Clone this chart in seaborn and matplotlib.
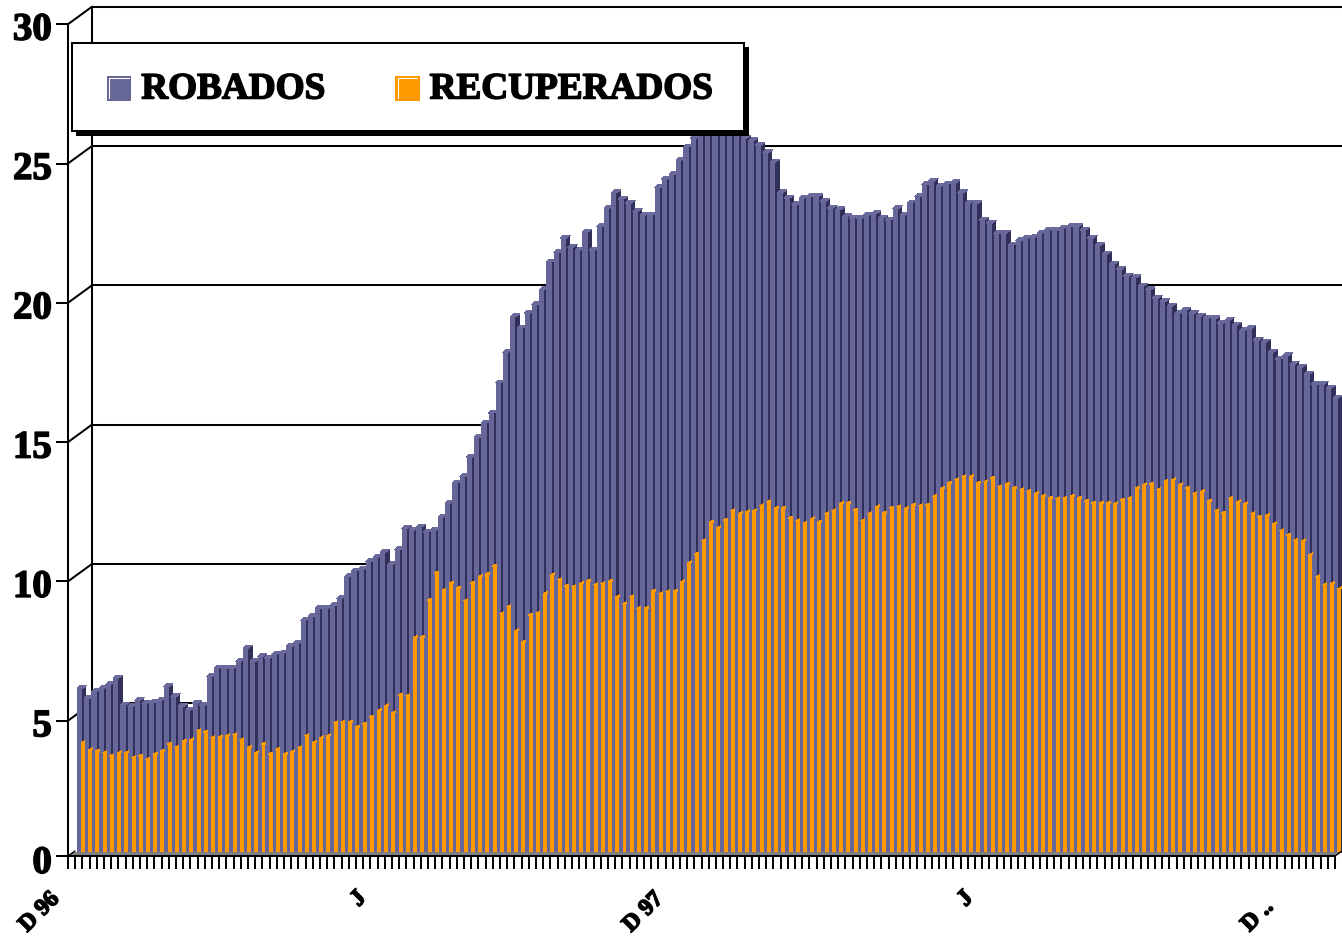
import numpy as np
import pandas as pd
import matplotlib
matplotlib.use("Agg")
import matplotlib.pyplot as plt
import matplotlib.patheffects as pe
from matplotlib.collections import PolyCollection
from matplotlib.legend_handler import HandlerBase
from matplotlib.lines import Line2D
from matplotlib.patches import Patch, Rectangle
from matplotlib.transforms import ScaledTranslation
import seaborn as sns

robados = [5.91,5.55,5.79,5.91,6.05,6.27,5.31,5.25,5.47,5.37,5.39,5.47,5.97,5.61,5.25,
    5.13,5.37,5.31,6.33,6.63,6.63,6.63,6.87,7.35,6.87,7.05,6.99,7.14,7.17,7.41,
    7.53,8.34,8.48,8.78,8.78,8.87,9.15,9.91,10.12,10.19,10.45,10.62,10.80,10.34,10.88,
    11.63,11.59,11.70,11.52,11.59,12.06,12.56,13.28,13.50,14.21,14.90,15.43,15.79,16.87,17.98,
    19.24,18.84,19.38,19.67,20.21,21.21,21.54,22.07,21.75,21.64,22.29,21.64,22.47,23.15,23.69,
    23.47,23.33,23.04,22.90,22.90,23.87,24.19,24.34,24.87,25.34,25.66,25.81,25.95,26.02,26.02,
    25.95,25.88,25.66,25.56,25.41,25.13,24.80,23.69,23.51,23.26,23.51,23.55,23.55,23.40,23.15,
    23.08,22.83,22.79,22.79,22.90,22.94,22.79,22.72,23.12,22.90,23.33,23.55,23.98,24.12,23.94,
    24.01,24.05,23.69,23.33,23.30,22.72,22.61,22.22,22.25,21.82,21.97,22.07,22.11,22.25,22.36,
    22.33,22.43,22.47,22.47,22.36,22.07,21.79,21.50,21.14,20.96,20.71,20.64,20.35,20.21,19.92,
    19.78,19.63,19.35,19.49,19.35,19.27,19.20,19.17,19.02,19.13,18.95,18.74,18.84,18.41,18.34,
    17.98,17.73,17.84,17.55,17.44,17.19,16.83,16.83,16.69,16.33]
recuperados = [3.95,3.70,3.66,3.59,3.48,3.59,3.59,3.41,3.48,3.37,3.55,3.66,3.91,3.80,4.02,
    4.06,4.38,4.34,4.13,4.16,4.20,4.24,4.06,3.77,3.59,3.91,3.55,3.73,3.55,3.63,
    3.77,4.20,3.95,4.13,4.20,4.67,4.70,4.70,4.52,4.63,4.88,5.10,5.28,5.03,5.67,
    5.64,7.72,7.75,9.08,10.05,9.44,9.69,9.51,9.05,9.69,9.91,10.01,10.30,8.58,8.83,
    7.97,7.57,8.54,8.61,9.30,9.98,9.80,9.58,9.55,9.66,9.76,9.62,9.66,9.76,9.19,
    8.94,9.19,8.79,8.79,9.40,9.30,9.37,9.40,9.73,10.41,10.73,11.20,11.88,11.67,11.95,
    12.28,12.17,12.24,12.28,12.46,12.60,12.38,12.38,12.02,11.92,11.84,11.99,11.88,12.17,12.28,
    12.53,12.56,12.31,11.92,12.17,12.42,12.20,12.38,12.42,12.35,12.49,12.46,12.49,12.81,13.07,
    13.28,13.39,13.50,13.50,13.28,13.32,13.46,13.14,13.24,13.10,13.03,12.99,12.89,12.81,12.74,
    12.71,12.74,12.81,12.74,12.63,12.56,12.56,12.56,12.53,12.67,12.74,13.10,13.21,13.24,13.03,
    13.35,13.39,13.21,13.10,12.89,12.96,12.63,12.28,12.20,12.74,12.60,12.53,12.17,12.06,12.10,
    11.81,11.56,11.41,11.23,11.20,10.70,9.91,9.62,9.66,9.48]
y_ticks = [0, 5, 10, 15, 20, 25, 30]
date_labels = ["D 96", "J", "D 97", "J", "D .."]

PURPLE, DARK, ORANGE, FLOOR = "#666699", "#30305A", "#FF9900", "#808080"
PX_X, PX_Y = 7.22, 27.86          # pixels per bar, pixels per unit
FONT = "Liberation Serif"
thick = [pe.withStroke(linewidth=1.1, foreground="black")]

sns.set_theme(style="white")
plt.rcParams["font.family"] = [FONT, "DejaVu Sans"]
plt.rcParams["font.weight"] = "bold"
plt.rcParams["text.color"] = "black"
plt.rcParams["ytick.color"] = "black"

fig = plt.figure(figsize=(13.42, 9.37), dpi=100, facecolor="white")
ax = fig.add_axes([68 / 1342, 80 / 937, (1342 - 68) / 1342, 857 / 937])
ax.set_facecolor("none")

n = len(robados)
idx = np.arange(n, dtype=float)
df = pd.DataFrame({"i": idx, "r": robados, "o": recuperados})
px = lambda p: p / PX_X
py = lambda p: p / PX_Y
CAP = 3.0
FACE = 5.2

# depth offset of the bar row relative to the front plane (7 px up)
shift = ax.transData + ScaledTranslation(0, 7 / 100, fig.dpi_scale_trans)


def bars(x, y, width, color, z):
    before = len(ax.patches)
    sns.barplot(data=pd.DataFrame({"x": x, "y": y}), x="x", y="y", native_scale=True,
                width=width, color=color, saturation=1, linewidth=0, zorder=z, ax=ax)
    for p in ax.patches[before:]:
        p.set_transform(shift)
        p.set_antialiased(False)
        p.set_clip_on(False)


r = df["r"].to_numpy()
o = df["o"].to_numpy()
# dark side faces (partly hidden behind the front faces)
bars(idx + px(-4 + 6.5), r + py(CAP), 6 / PX_X, DARK, 3)
# top faces of the blue bars
caps = [[(i - px(4), v), (i - px(1), v + py(CAP)), (i + px(5.3), v + py(CAP)), (i + px(1.3), v)]
        for i, v in zip(idx, r)]
ax.add_collection(PolyCollection(caps, facecolors="#6A6A9C", edgecolors="none", zorder=3.5,
                                 transform=shift, antialiased=False))
# front faces
bars(idx + px(-4 + FACE / 2), r, FACE / PX_X, PURPLE, 4)
bars(idx + px(2), o, 4 / PX_X, ORANGE, 5)
ocaps = [[(i, v), (i + px(4), v + py(2)), (i + px(4), v)] for i, v in zip(idx, o)]
ax.add_collection(PolyCollection(ocaps, facecolors=ORANGE, edgecolors="none", zorder=5,
                                 transform=shift, antialiased=False))

xl = -13 / PX_X
xr = (1342 - 81) / PX_X
y0 = 4 / PX_Y
ax.set_xlim(xl, xr)
ax.set_ylim(y0, 861 / PX_Y)

# back wall, grid lines and the slanted joins
xb = xl + px(24)
dy = py(17.5)
lw = 1.45
for v in y_ticks[1:]:
    ax.plot([xb, xr], [v + dy, v + dy], color="black", lw=lw, zorder=1, clip_on=False)
    ax.plot([xl, xb], [v, v + dy], color="black", lw=lw, zorder=1, clip_on=False)
ax.plot([xb, xb], [dy, 30 + dy], color="black", lw=lw, zorder=1)

# floor
xe = xl + px(1267)
ax.fill([xl, xe, xe + px(7), xl + px(6)], [y0, y0, y0 + py(4), y0 + py(4)],
        color=FLOOR, zorder=6, lw=0)
ax.plot([xe, xe + px(7)], [y0, y0 + py(5)], color="black", lw=1, zorder=6, clip_on=False)
ax.plot([xl, xl + px(7)], [y0, y0 + py(5)], color="black", lw=1, zorder=6, clip_on=False)

for s in ["top", "right"]:
    ax.spines[s].set_visible(False)
for s in ["left", "bottom"]:
    ax.spines[s].set_linewidth(lw)
    ax.spines[s].set_color("black")
    ax.spines[s].set_zorder(7)
ax.spines["left"].set_bounds(y0, 30)
ax.spines["bottom"].set_bounds(xl, xe)

ax.set_xlabel("")
ax.set_ylabel("")
ax.set_xticks(np.linspace(xl, xe, 177))
ax.set_xticklabels([])
ax.set_yticks([y0] + y_ticks[1:])
ax.set_yticklabels([str(v) for v in y_ticks], fontsize=28, fontweight="bold",
                   family=FONT, path_effects=thick, color="black")
ax.tick_params(axis="x", length=9.4, width=lw, color="black", bottom=True)
ax.tick_params(axis="y", length=8.6, width=lw, color="black", left=True, pad=3)
for k, tick in enumerate(ax.yaxis.get_major_ticks()):
    down = 3 if k == 0 else 1.5
    tick.label1.set_transform(tick.label1.get_transform()
                              + ScaledTranslation(0, -down / 100, fig.dpi_scale_trans))

# period labels
label_px = [56, 363, 660, 970, 1270]
label_py = [897, 896, 897, 896, 905]
for lab, lx, ly in zip(date_labels, label_px, label_py):
    ax.text((lx - 81) / PX_X, (861 - ly) / PX_Y, lab, rotation=45, ha="right", va="center",
            rotation_mode="anchor", fontsize=17, fontweight="bold", family=FONT, color="black",
            path_effects=thick, clip_on=False)


class Bevel(HandlerBase):
    def create_artists(self, legend, orig, xd, yd, w, h, fontsize, trans):
        d = 2.0
        rect = Rectangle((-xd, -yd - d), w, h, facecolor=orig.get_facecolor(), edgecolor="none",
                         transform=trans)
        m = 1.6
        line = Line2D([-xd + m, -xd + m, -xd + w - m],
                      [-yd - d + m, -yd - d + h - m, -yd - d + h - m],
                      color="white", lw=0.8, transform=trans)
        return [rect, line]


# legend frame and its hard shadow, in figure pixels
def fig_rect(x0, y0_, x1, y1, **kw):
    return Rectangle((x0 / 1342, 1 - y1 / 937), (x1 - x0) / 1342, (y1 - y0_) / 937,
                     transform=fig.transFigure, clip_on=False, **kw)


ax.add_patch(fig_rect(76, 48, 749, 137, facecolor="black", edgecolor="none", zorder=18))
ax.add_patch(fig_rect(72, 44, 744, 132, facecolor="white", edgecolor="black", linewidth=lw, zorder=19))

handles = [Patch(facecolor=PURPLE, label="ROBADOS"), Patch(facecolor=ORANGE, label="RECUPERADOS")]
leg = ax.legend(handles=handles, handler_map={Patch: Bevel()}, ncol=2, loc="center left",
                bbox_to_anchor=(107 / 1342, 1 - 90 / 937), bbox_transform=fig.transFigure,
                borderaxespad=0, frameon=False, handlelength=0.65, handleheight=0.65,
                handletextpad=0.27, columnspacing=1.87, borderpad=0,
                prop={"family": FONT, "weight": "bold", "size": 26.8})
leg.set_zorder(20)
for t in leg.get_texts():
    t.set_path_effects(thick)
    t.set_color("black")

fig.savefig("out.png", dpi=100, facecolor="white")
